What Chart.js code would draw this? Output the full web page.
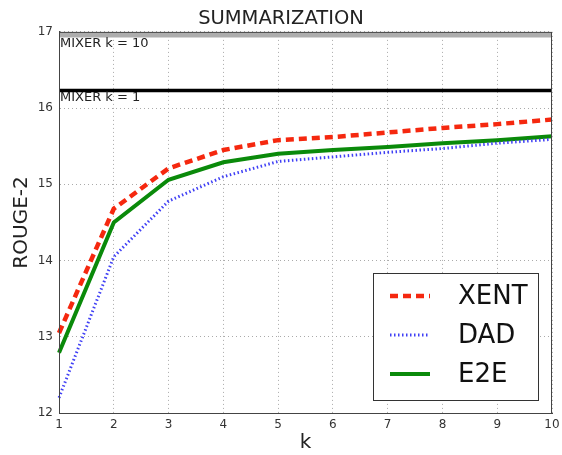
<!DOCTYPE html>
<html>
<head>
<meta charset="utf-8">
<script src="https://cdn.jsdelivr.net/npm/chart.js@4/dist/chart.umd.min.js"></script>
<style>
  html, body { margin: 0; padding: 0; background: #fff; }
  #wrap { width: 562px; height: 455px; }
</style>
</head>
<body>
<div id="wrap"><canvas id="chart"></canvas></div>
<script>
const kValues = ["1", "2", "3", "4", "5", "6", "7", "8", "9", "10"];
const xentScores = [13.05, 14.68, 15.21, 15.45, 15.58, 15.62, 15.68, 15.74, 15.79, 15.85];
const dadScores = [12.2, 14.05, 14.78, 15.1, 15.3, 15.36, 15.42, 15.47, 15.54, 15.59];
const e2eScores = [12.79, 14.5, 15.06, 15.29, 15.4, 15.45, 15.49, 15.54, 15.58, 15.63];
const mixerK10 = 16.96;
const mixerK1 = 16.23;
const yTicks = [12, 13, 14, 15, 16, 17];

const FONT = "'DejaVu Sans', sans-serif";

// frame around the plot area, like matplotlib axes
const framePlugin = {
  id: "frame",
  afterDatasetsDraw(chart) {
    const { ctx, chartArea: a } = chart;
    ctx.save();
    ctx.strokeStyle = "#444";
    ctx.lineWidth = 1;
    ctx.strokeRect(a.left + 0.5, a.top + 0.5, a.right - a.left - 1, a.bottom - a.top);
    ctx.restore();
  },
};

// "MIXER k = ..." labels under the reference lines
const mixerLabels = {
  id: "mixerLabels",
  afterDatasetsDraw(chart) {
    const { ctx, chartArea: a, scales } = chart;
    ctx.save();
    ctx.font = "13px " + FONT;
    ctx.fillStyle = "#222";
    ctx.textBaseline = "top";
    ctx.textAlign = "left";
    ctx.fillText("MIXER k = 10", a.left + 1, scales.y.getPixelForValue(mixerK10) + 2);
    ctx.fillText("MIXER k = 1", a.left + 1, scales.y.getPixelForValue(mixerK1) + 1);
    ctx.restore();
  },
};

// legend box in the lower right corner
const boxLegend = {
  id: "boxLegend",
  afterDraw(chart) {
    const { ctx, chartArea: a } = chart;
    const items = chart.data.datasets.filter((d) => d.inLegend);
    const w = 165, rowH = 39;
    const h = rowH * items.length + 10;
    const x0 = a.right - 14 - w;
    const y0 = a.bottom - 13 - h;
    ctx.save();
    ctx.fillStyle = "#fff";
    ctx.fillRect(x0, y0, w, h);
    ctx.strokeStyle = "#333";
    ctx.lineWidth = 1;
    ctx.strokeRect(x0 + 0.5, y0 + 0.5, w, h);
    items.forEach((d, i) => {
      const cy = y0 + 23 + i * rowH;
      ctx.beginPath();
      ctx.strokeStyle = d.borderColor;
      ctx.lineWidth = d.borderWidth;
      ctx.setLineDash(d.borderDash || []);
      ctx.moveTo(x0 + 17, cy);
      ctx.lineTo(x0 + 57, cy);
      ctx.stroke();
      ctx.setLineDash([]);
      ctx.fillStyle = "#111";
      ctx.font = "26px " + FONT;
      ctx.textBaseline = "middle";
      ctx.fillText(d.label, x0 + 85, cy + 1);
    });
    ctx.restore();
  },
};

new Chart(document.getElementById("chart"), {
  type: "line",
  data: {
    labels: kValues,
    datasets: [
      {
        label: "MIXER k = 10",
        data: kValues.map(() => mixerK10),
        borderColor: "#adadad",
        borderWidth: 5,
      },
      {
        label: "MIXER k = 1",
        data: kValues.map(() => mixerK1),
        borderColor: "#000",
        borderWidth: 3.5,
      },
      {
        label: "XENT",
        data: xentScores,
        borderColor: "#f5280f",
        borderWidth: 4.5,
        borderDash: [8, 5],
        inLegend: true,
      },
      {
        label: "DAD",
        data: dadScores,
        borderColor: "#4040f5",
        borderWidth: 3,
        borderDash: [1.5, 2.5],
        inLegend: true,
      },
      {
        label: "E2E",
        data: e2eScores,
        borderColor: "#0a8a0a",
        borderWidth: 4,
        inLegend: true,
      },
    ],
  },
  options: {
    responsive: true,
    maintainAspectRatio: false,
    animation: false,
    layout: { padding: 0 },
    elements: { point: { radius: 0 }, line: { tension: 0 } },
    plugins: {
      legend: { display: false },
      tooltip: { enabled: false },
      title: {
        display: true,
        text: "SUMMARIZATION",
        color: "#222",
        font: { family: FONT, size: 19.5, weight: "normal" },
        padding: { top: 7.5, bottom: 1 },
      },
    },
    scales: {
      x: {
        offset: false,
        grid: { color: "#aaa", drawTicks: false },
        border: { color: "#444", dash: [1, 3] },
        ticks: { color: "#333", font: { family: FONT, size: 12 }, padding: 5, maxRotation: 0 },
        title: {
          display: true,
          text: "k",
          color: "#222",
          font: { family: FONT, size: 20 },
          padding: { top: 0, bottom: 0 },
        },
        afterFit: (s) => {
          s.height = 42;
          s.paddingLeft = 0;
          s.paddingRight = 10;
        },
      },
      y: {
        min: 12,
        max: 17,
        afterBuildTicks: (s) => { s.ticks = yTicks.map((v) => ({ value: v })); },
        grid: { color: "#aaa", drawTicks: false },
        border: { color: "#444", dash: [1, 3] },
        ticks: { color: "#333", font: { family: FONT, size: 12 }, padding: 6 },
        title: {
          display: true,
          text: "ROUGE-2",
          color: "#222",
          font: { family: FONT, size: 20 },
          padding: { top: 10, bottom: 0 },
        },
        afterFit: (s) => { s.width = 59; },
      },
    },
  },
  plugins: [framePlugin, mixerLabels, boxLegend],
});
</script>
</body>
</html>
